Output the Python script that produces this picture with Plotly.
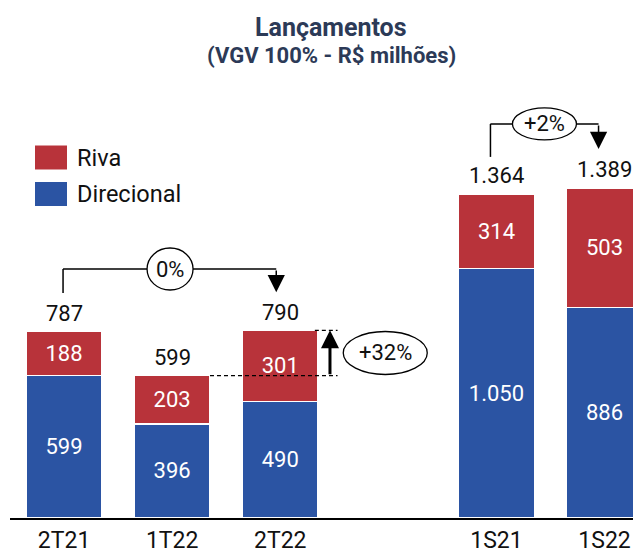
import plotly.graph_objects as go

# ---- data ----
categories = ["2T21", "1T22", "2T22", "1S21", "1S22"]
x_pos = [0, 1, 2, 4, 5]          # gap slot between quarters and semesters
direcional = [599, 396, 490, 1050, 886]
riva = [188, 203, 301, 314, 503]
direcional_labels = ["599", "396", "490", "1.050", "886"]
riva_labels = ["188", "203", "301", "314", "503"]
totals = [787, 599, 790, 1364, 1389]
total_labels = ["787", "599", "790", "1.364", "1.389"]
var_q = "0%"      # 2T21 -> 2T22
var_riva = "+32%" # 1T22 -> 2T22 (total)
var_s = "+2%"     # 1S21 -> 1S22

RED = "#B8333A"
BLUE = "#2B54A3"
NAVY = "#2C3A57"
FONT = "Roboto"

# page offset (browser body margin) and geometry
OFF = 8
W, H = 641 - OFF, 550 - OFF
ML, MR, MT, MB = 10 - OFF, 0, 60 - OFF, 32
plot_h = H - MT - MB
plot_w = W - ML - MR
px_per_unit_y = 0.2376
y_max = plot_h / px_per_unit_y
px_per_x = 108.1
x_min = -0.5
x_max = x_min + plot_w / px_per_x
dy = 1 / px_per_unit_y   # data units per pixel (y)
dx = 1 / px_per_x        # data units per pixel (x)

fig = go.Figure()
fig.add_trace(go.Bar(
    x=x_pos, y=direcional, name="Direcional", marker_color=BLUE,
    marker_line=dict(color="white", width=1.5), width=0.7,
    text=direcional_labels, textposition="inside", insidetextanchor="middle",
    textfont=dict(color="white", size=22, family=FONT), textangle=0,
    constraintext="none", hoverinfo="skip", showlegend=False))
fig.add_trace(go.Bar(
    x=x_pos, y=riva, name="Riva", marker_color=RED,
    marker_line=dict(color="white", width=1.5), width=0.7,
    text=riva_labels, textposition="inside", insidetextanchor="middle",
    textfont=dict(color="white", size=22, family=FONT), textangle=0,
    constraintext="none", hoverinfo="skip", showlegend=False))

annotations = []
shapes = []

# totals above bars
for xp, t, lab in zip(x_pos, totals, total_labels):
    annotations.append(dict(x=xp, y=t, text=lab, showarrow=False, yshift=18,
                            yanchor="middle", font=dict(size=22, color="#111", family=FONT)))

line_style = dict(color="black", width=1.5)

def bracket(x0, x1, y_left_bottom, y_top, y_tip, label, ew, eh, xc=None):
    shapes.append(dict(type="line", xref="x", yref="y", x0=x0, x1=x0,
                       y0=y_left_bottom, y1=y_top, line=line_style))
    shapes.append(dict(type="line", xref="x", yref="y", x0=x0, x1=x1,
                       y0=y_top, y1=y_top, line=line_style))
    annotations.append(dict(x=x1, y=y_tip, ax=x1, ay=y_top, axref="x", ayref="y",
                            xref="x", yref="y", text="", showarrow=True,
                            arrowhead=2, arrowsize=2.3, arrowwidth=1.5,
                            arrowcolor="black", standoff=0))
    if xc is None:
        xc = (x0 + x1) / 2
    shapes.append(dict(type="circle", xref="x", yref="y",
                       x0=xc - ew / 2, x1=xc + ew / 2,
                       y0=y_top - eh / 2, y1=y_top + eh / 2,
                       fillcolor="white", line=dict(color="black", width=1.3)))
    annotations.append(dict(x=xc, y=y_top, text=label, showarrow=False,
                            font=dict(size=22, color="#111", family=FONT)))

# 0% bracket (2T21 -> 2T22)
bracket(x_pos[0] - 1 * dx, x_pos[2] - 4 * dx,
        totals[0] + 38 * dy, totals[0] + 62 * dy, totals[2] + 38 * dy,
        var_q, 46 * dx, 42 * dy, xc=x_pos[0] + 106 * dx)

# +2% bracket (1S21 -> 1S22)
bracket(x_pos[3] - 6 * dx, x_pos[4] - 6 * dx,
        totals[3] + 37 * dy, totals[3] + 70 * dy, totals[4] + 39 * dy,
        var_s, 64 * dx, 32 * dy, xc=x_pos[3] + 48 * dx)

# +32% indicator between 1T22 and 2T22 totals
dash = dict(color="black", width=1.2, dash="4px,3px")
shapes.append(dict(type="line", xref="x", yref="y", x0=x_pos[1] + 0.35, x1=x_pos[2] + 0.53,
                   y0=totals[1], y1=totals[1], line=dash, layer="above"))
shapes.append(dict(type="line", xref="x", yref="y", x0=x_pos[2] + 0.32, x1=x_pos[2] + 0.53,
                   y0=totals[2], y1=totals[2], line=dash, layer="above"))
annotations.append(dict(x=x_pos[2] + 0.46, y=totals[2], ax=x_pos[2] + 0.46, ay=totals[1],
                        axref="x", ayref="y", xref="x", yref="y", text="", showarrow=True,
                        arrowhead=2, arrowsize=1.2, arrowwidth=3, arrowcolor="black", standoff=0))
xc32 = x_pos[2] + 105 * dx
yc32 = (totals[1] + totals[2]) / 2
shapes.append(dict(type="circle", xref="x", yref="y",
                   x0=xc32 - 42 * dx, x1=xc32 + 42 * dx,
                   y0=yc32 - 21.5 * dy, y1=yc32 + 21.5 * dy,
                   fillcolor="white", line=dict(color="black", width=1.3)))
annotations.append(dict(x=xc32, y=yc32, text=var_riva, showarrow=False,
                        font=dict(size=22, color="#111", family=FONT)))

# custom legend (positions given in page pixels)
def px_to_paper_x(px):
    return (px - OFF - ML) / plot_w

def px_to_paper_y(py):
    return (H - MB - (py - OFF)) / plot_h

legend_items = [("Riva", RED, 145.5, 169.5), ("Direcional", BLUE, 182, 206)]
for name, col, ytop, ybot in legend_items:
    shapes.append(dict(type="rect", xref="paper", yref="paper",
                       x0=px_to_paper_x(35), x1=px_to_paper_x(67),
                       y0=px_to_paper_y(ybot), y1=px_to_paper_y(ytop),
                       fillcolor=col, line=dict(width=0)))
    annotations.append(dict(xref="paper", yref="paper", x=px_to_paper_x(75),
                            y=px_to_paper_y((ytop + ybot) / 2), xanchor="left", yanchor="middle",
                            text=name, showarrow=False,
                            font=dict(size=23.5, color="#111", family=FONT)))

# titles
annotations.append(dict(xref="paper", yref="paper", x=px_to_paper_x(331), y=px_to_paper_y(27.5),
                        text="<b>Lançamentos</b>", showarrow=False, yanchor="middle",
                        font=dict(size=25, color=NAVY, family=FONT)))
annotations.append(dict(xref="paper", yref="paper", x=px_to_paper_x(331), y=px_to_paper_y(55),
                        text="<b>(VGV 100% - R$ milhões)</b>", showarrow=False, yanchor="middle",
                        font=dict(size=22, color=NAVY, family=FONT)))

fig.update_layout(
    barmode="stack",
    width=W, height=H,
    margin=dict(l=ML, r=MR, t=MT, b=MB, autoexpand=False),
    plot_bgcolor="white", paper_bgcolor="white",
    shapes=shapes, annotations=annotations,
    showlegend=False,
    xaxis=dict(range=[x_min, x_max], tickvals=x_pos, ticktext=categories,
               showline=True, linecolor="black", linewidth=1.5, ticks="",
               showgrid=False, zeroline=False, fixedrange=True, automargin=False,
               tickfont=dict(size=23, color="#111", family=FONT), ticklabelstandoff=1),
    yaxis=dict(range=[0, y_max], visible=False, showgrid=False, zeroline=False,
               fixedrange=True, automargin=False),
    font=dict(family=FONT),
)

fig.write_html("out.html", config={"displayModeBar": False})
